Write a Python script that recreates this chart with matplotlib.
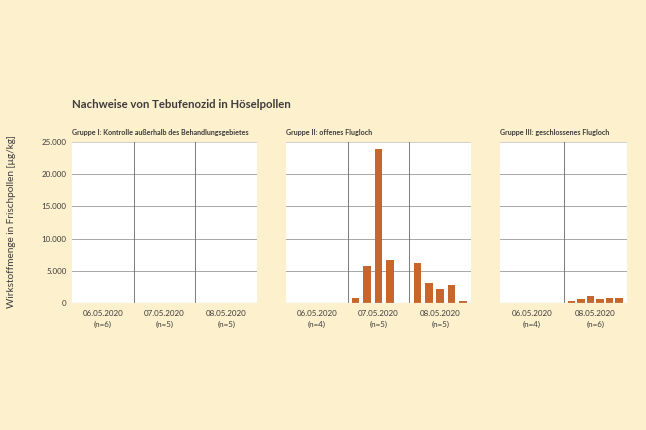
"""Tebufenozid residues in Hoesel pollen, three treatment groups."""

import matplotlib.pyplot as plt
import numpy as np

BG = "#FDF0CC"
BAR = "#C8652A"
TEXT = "#3C3C3C"
GRID_H = "#A8A8A8"
GRID_V = "#7A7A7A"

plt.rcParams["font.family"] = ["Lato", "DejaVu Sans"]

# --- data: one list of sample values per date ---
titles = [
    "Gruppe I: Kontrolle außerhalb des Behandlungsgebietes",
    "Gruppe II: offenes Flugloch",
    "Gruppe III: geschlossenes Flugloch",
]
dates_1 = ["06.05.2020", "07.05.2020", "08.05.2020"]
n_1 = [6, 5, 5]
values_1 = [[0] * 6, [0] * 5, [0] * 5]

dates_2 = ["06.05.2020", "07.05.2020", "08.05.2020"]
n_2 = [4, 5, 5]
values_2 = [
    [0, 0, 0, 0],
    [700, 5750, 23850, 6600, 0],
    [6200, 3150, 2100, 2850, 350],
]

dates_3 = ["06.05.2020", "08.05.2020"]
n_3 = [4, 6]
values_3 = [
    [0, 0, 0, 0],
    [350, 550, 1150, 650, 800, 800],
]

yticks = [0, 5000, 10000, 15000, 20000, 25000]
ytick_labels = ["0", "5.000", "10.000", "15.000", "20.000", "25.000"]

panels = [
    (dates_1, n_1, values_1),
    (dates_2, n_2, values_2),
    (dates_3, n_3, values_3),
]

fig = plt.figure(figsize=(6.46, 4.30), dpi=100)
fig.patch.set_facecolor(BG)

px_w, px_h = 646, 430
bottom = 1 - 303 / px_h
height = 161 / px_h
lefts = [72, 286, 500]
widths = [185, 185, 127]

for i, (dates, ns, values) in enumerate(panels):
    ax = fig.add_axes([lefts[i] / px_w, bottom, widths[i] / px_w, height])
    ax.set_facecolor("white")
    ngroups = len(dates)
    ax.set_xlim(0, ngroups)
    ax.set_ylim(0, 25000)

    # bars: margin ~8px each side inside every date group
    group_px = widths[i] / ngroups
    margin = 8 / group_px
    bar_w = 7.6 / group_px
    for g, vals in enumerate(values):
        k = len(vals)
        xs = g + margin + np.arange(k) * (1 - 2 * margin) / (k - 1)
        ax.bar(xs, vals, width=bar_w, color=BAR, zorder=3)

    for y in yticks[1:]:
        ax.axhline(y, color=GRID_H if y < 25000 else "#D0D0D0", lw=0.7, zorder=1)
    ax.axhline(0, color="#D8D8D8", lw=0.9, zorder=4)
    for g in range(1, ngroups):
        ax.axvline(g, color=GRID_V, lw=0.7, zorder=1)

    for s in ax.spines.values():
        s.set_visible(False)

    ax.set_xticks(np.arange(ngroups) + 0.5)
    ax.set_xticklabels([f"{d}\n(n={n})" for d, n in zip(dates, ns)],
                       fontsize=5.8, color=TEXT, linespacing=1.7)
    ax.tick_params(axis="x", length=0, pad=5)
    if i == 0:
        ax.set_yticks(yticks)
        ax.set_yticklabels(ytick_labels, fontsize=5.8, color=TEXT)
        ax.tick_params(axis="y", length=0, pad=4)
    else:
        ax.set_yticks([])

    ax.text(0, 1.04, titles[i], transform=ax.transAxes, ha="left", va="bottom",
            fontsize=5.1, fontweight="bold", color=TEXT)

fig.text(72 / px_w, 1 - 105 / px_h, "Nachweise von Tebufenozid in Höselpollen",
         ha="left", va="center", fontsize=8.2, fontweight="bold", color=TEXT)
fig.text(12 / px_w, 1 - 222 / px_h, "Wirkstoffmenge in Frischpollen [µg/kg]",
         ha="center", va="center", rotation=90, fontsize=7.2, color=TEXT)

fig.savefig("out.png", dpi=100, facecolor=BG)
plt.close(fig)
